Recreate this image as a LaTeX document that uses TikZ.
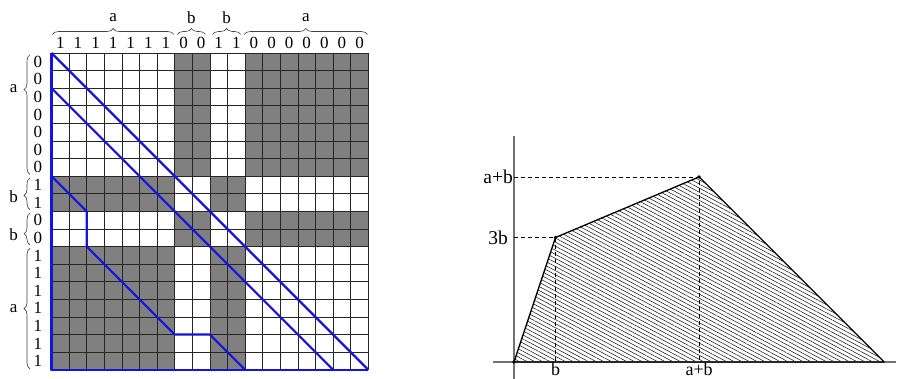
\documentclass[tikz,border=0pt]{standalone}
\usepackage{fontspec}
\setmainfont{Liberation Serif}
\usetikzlibrary{calc}
\usetikzlibrary{positioning}
\usetikzlibrary{patterns.meta}
\usetikzlibrary{decorations.pathreplacing}
\definecolor{lineblue}{rgb}{0.08,0.08,0.88}
\definecolor{cellgray}{rgb}{0.5,0.5,0.5}

\begin{document}
\begin{tikzpicture}[
	gr/.style = {draw=black!85, line width=0.7pt},
	bl/.style = {draw=lineblue, line width=2.2pt, line join=round},
	br/.style = {draw=black!75, line width=0.6pt, decorate, decoration={brace, amplitude=6pt}},
	bit/.style = {inner sep=0pt, font=\fontsize{17}{19}\selectfont},
	lbl/.style = {inner sep=0pt, font=\fontsize{17}{19}\selectfont},
	ax/.style = {draw=black!55, line width=1.2pt},
	dsh/.style = {draw=black, line width=0.5pt, dash pattern=on 4pt off 3pt},
	big/.style = {inner sep=1pt, font=\fontsize{19.5}{22}\selectfont}
	]
	\useasboundingbox (0,0) rectangle (901pt,379pt);
	
	% === === Grid === ===
	\begin{scope}[shift={(51.5pt,326pt)}, x=17.6pt, y=-17.6pt]
		\foreach \ra/\rb in {0/7, 9/11}
			\foreach \ca/\cb in {7/9, 11/18}
				\fill[cellgray] (\ca,\ra) rectangle (\cb,\rb);
		\foreach \ra/\rb in {7/9, 11/18}
			\foreach \ca/\cb in {0/7, 9/11}
				\fill[cellgray] (\ca,\ra) rectangle (\cb,\rb);
		\foreach \k in {0,...,18} {
			\draw[gr] (\k,0) -- (\k,18);
			\draw[gr] (0,\k) -- (18,\k);
		}
		
		% bits
		\foreach \b [count=\i from 0] in {1,1,1,1,1,1,1,0,0,1,1,0,0,0,0,0,0,0}
			\node[bit] (c\i) at (\i+0.5,-0.6) {\b};
		\foreach \b [count=\i from 0] in {0,0,0,0,0,0,0,1,1,0,0,1,1,1,1,1,1,1}
			\node[bit] (r\i) at (-0.77,\i+0.5) {\b};
		
		% braces
		\draw[br] (0.05,-1.05) -- (6.95,-1.05);
		\draw[br] (7.15,-1.05) -- (8.75,-1.05);
		\draw[br] (9.15,-1.05) -- (10.75,-1.05);
		\draw[br] (10.95,-1.05) -- (17.95,-1.05);
		\node[lbl] (ta1) at (3.5,-2.0) {a};
		\node[lbl] (tb1) at (7.95,-2.0) {b};
		\node[lbl] (tb2) at (9.95,-2.0) {b};
		\node[lbl] (ta2) at (14.45,-2.0) {a};
		
		\draw[br, decoration={aspect=0.71}] (-1.22,6.9) -- (-1.22,0.1);
		\draw[br, decoration={aspect=0.45}] (-1.22,8.9) -- (-1.22,7.1);
		\draw[br, decoration={aspect=0.35}] (-1.22,10.9) -- (-1.22,9.1);
		\draw[br] (-1.22,17.95) -- (-1.22,11.1);
		\node[lbl] (la1) at (-2.15,2.05) {a};
		\node[lbl] (lb1) at (-2.15,8.15) {b};
		\node[lbl] (lb2) at (-2.15,10.3) {b};
		\node[lbl] (la2) at (-2.15,14.5) {a};
		
		% blue paths
		\draw[bl] (0,0) -- (0,18) -- (18,18);
		\draw[bl] (0,0) -- (18,18);
		\draw[bl] (0,2) -- (16,18);
		\draw[bl] (0,7) -- (2,9) -- (2,11) -- (7,16) -- (9,16) -- (11,18);
	\end{scope}
	
	% === === Region === ===
	\begin{scope}[shift={(514pt,17pt)}, x=41.5pt, y=41.5pt]
		\def\ab{4.46}
		\coordinate (O) at (0,0);
		\coordinate (P) at (1,3);
		\coordinate (Q) at (\ab,\ab);
		\coordinate (R) at (2*\ab,0);
		
		\fill[pattern={Lines[angle=-28, distance=3.6pt, line width=0.55pt]}, pattern color=black!90]
			(O) -- (P) -- (Q) -- (R) -- cycle;
		
		\draw[ax] (-0.5,0) -- (9.2,0);
		\draw[ax] (0,-0.5) -- (0,5.45);
		
		\draw[dsh] (0,3) -- (P) -- (1,0);
		\draw[dsh] (0,\ab) -- (Q) -- (\ab,0);
		
		\draw[black, line width=1.3pt, line join=round] (O) -- (P) -- (Q) -- (R) -- cycle;
		\foreach \p in {O,P,Q}
			\fill (\p) circle (1.8pt);
		
		\node[big, anchor=east] (yab) at (0,\ab) {a+b};
		\node[big, anchor=east] (y3b) at (-0.12,3) {3b};
		\node[big, anchor=north, inner sep=0pt, font=\fontsize{18}{20}\selectfont] (xb) at (1,-0.02) {b};
		\node[big, anchor=north, inner sep=0pt, font=\fontsize{18}{20}\selectfont] (xab) at (\ab,-0.02) {a+b};
	\end{scope}
	
\end{tikzpicture}
\end{document}
